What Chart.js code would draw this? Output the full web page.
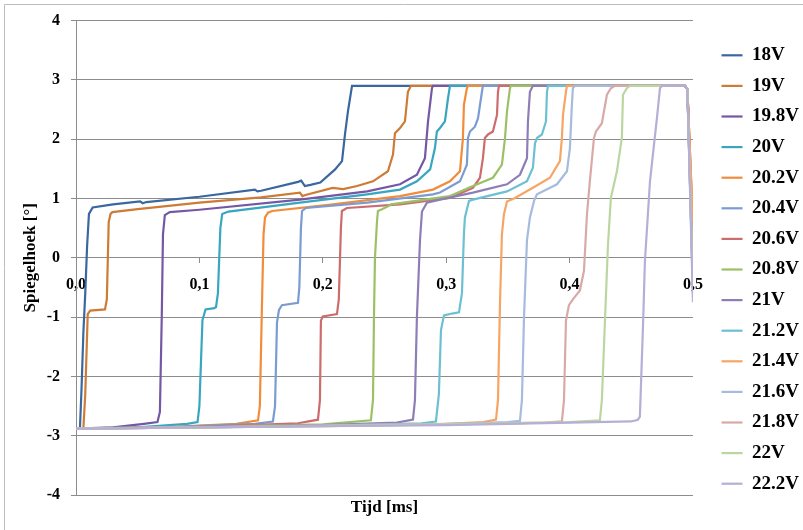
<!DOCTYPE html>
<html>
<head>
<meta charset="utf-8">
<script src="https://cdn.jsdelivr.net/npm/chart.js@4.4.0/dist/chart.umd.min.js"></script>
<style>
  html, body { margin: 0; padding: 0; background: #fff; }
  #wrap { width: 803px; height: 530px; }
</style>
</head>
<body>
<div id="wrap"><canvas id="chart"></canvas></div>
<script>
// series labels (supply voltage) and line colours
const voltages = ['18V', '19V', '19.8V', '20V', '20.2V', '20.4V', '20.6V', '20.8V',
                  '21V', '21.2V', '21.4V', '21.6V', '21.8V', '22V', '22.2V'];
const colors = ['#3A67A0', '#CD7B35', '#7458A4', '#38A6BF', '#F08C3C', '#7A9CD2', '#CC6C6C', '#9CC066',
                '#8E7EB7', '#6DC0D3', '#F7A565', '#A6BBDD', '#D9A9A8', '#BBD6A1', '#B6AED6'];

const xTicks = [0, 0.1, 0.2, 0.3, 0.4, 0.5];   // tijd [ms]
const yTicks = [-4, -3, -2, -1, 0, 1, 2, 3, 4]; // spiegelhoek [°]

// [tijd (ms), hoek (°)]
const s18 = [[0,-2.88],[0.0032,-2.87],[0.0045,-2.2],[0.006,-1.25],[0.0075,-0.6],[0.009,0.2],[0.0105,0.74],[0.0135,0.85],[0.03,0.9],[0.052,0.95],[0.054,0.92],[0.057,0.94],[0.1,1.03],[0.145,1.15],[0.147,1.12],[0.15,1.13],[0.18,1.28],[0.1825,1.3],[0.1855,1.21],[0.19,1.23],[0.198,1.27],[0.21,1.49],[0.2156,1.63],[0.218,2.08],[0.2204,2.47],[0.2237,2.9],[0.4935,2.9],[0.4955,2.85],[0.5,0.3]];
const s19 = [[0,-2.88],[0.006,-2.87],[0.0075,-2.3],[0.0095,-0.95],[0.0115,-0.89],[0.0235,-0.87],[0.025,-0.7],[0.0265,0.6],[0.028,0.74],[0.0295,0.77],[0.05,0.82],[0.1,0.93],[0.15,1.02],[0.1815,1.1],[0.1835,1.04],[0.186,1.06],[0.208,1.18],[0.2165,1.16],[0.2278,1.21],[0.2407,1.29],[0.2528,1.46],[0.2569,1.74],[0.2585,2.1],[0.2626,2.19],[0.2666,2.3],[0.269,2.8],[0.2715,2.9],[0.4935,2.9],[0.4955,2.85],[0.5,0.5]];
const s19_8 = [[0,-2.88],[0.03,-2.86],[0.055,-2.8],[0.066,-2.77],[0.068,-2.6],[0.0695,-1.0],[0.0705,0.4],[0.072,0.72],[0.076,0.77],[0.1,0.81],[0.1815,0.98],[0.236,1.12],[0.2626,1.24],[0.2763,1.4],[0.2828,1.68],[0.2853,2.3],[0.2885,2.86],[0.2893,2.9],[0.4935,2.9],[0.4955,2.85],[0.5,0.0]];
const s20 = [[0,-2.88],[0.05,-2.86],[0.09,-2.8],[0.0985,-2.77],[0.1,-2.5],[0.1025,-1.05],[0.105,-0.87],[0.112,-0.85],[0.1135,-0.83],[0.115,-0.6],[0.117,0.5],[0.1185,0.74],[0.1235,0.78],[0.1815,0.93],[0.236,1.07],[0.2626,1.15],[0.2763,1.29],[0.287,1.49],[0.2909,1.85],[0.2925,2.13],[0.295,2.19],[0.299,2.3],[0.3015,2.69],[0.3031,2.9],[0.4935,2.9],[0.4955,2.85],[0.5,-0.2]];
const s20_2 = [[0,-2.88],[0.07,-2.86],[0.13,-2.8],[0.1475,-2.74],[0.149,-2.5],[0.1505,-1.0],[0.152,0.4],[0.1532,0.68],[0.1556,0.76],[0.159,0.79],[0.2083,0.9],[0.2626,1.04],[0.2893,1.15],[0.3031,1.29],[0.3112,1.46],[0.3136,2.02],[0.3144,2.58],[0.3168,2.86],[0.3177,2.9],[0.4935,2.9],[0.4955,2.85],[0.5,0.55]];
const s20_4 = [[0,-2.88],[0.08,-2.85],[0.145,-2.8],[0.1596,-2.76],[0.1613,-2.5],[0.1629,-1.09],[0.1645,-0.88],[0.1669,-0.8],[0.1799,-0.76],[0.181,-0.5],[0.1823,0.5],[0.1832,0.79],[0.1864,0.84],[0.236,0.93],[0.2893,1.07],[0.295,1.1],[0.3112,1.29],[0.3168,1.57],[0.3177,2.02],[0.3193,2.13],[0.3233,2.21],[0.3258,2.35],[0.329,2.8],[0.3298,2.9],[0.4935,2.9],[0.4955,2.85],[0.5,-0.3]];
const s20_6 = [[0,-2.88],[0.1,-2.85],[0.18,-2.79],[0.1961,-2.73],[0.1977,-2.4],[0.1985,-1.06],[0.2,-0.99],[0.2115,-0.95],[0.213,-0.7],[0.2147,0.5],[0.2155,0.79],[0.2196,0.84],[0.2626,0.9],[0.3031,1.01],[0.3217,1.18],[0.3274,1.35],[0.3298,1.68],[0.3314,2.02],[0.3339,2.08],[0.3379,2.13],[0.3412,2.41],[0.342,2.8],[0.3428,2.9],[0.4935,2.9],[0.4955,2.85],[0.5,0.2]];
const s20_8 = [[0,-2.88],[0.1,-2.85],[0.2,-2.81],[0.239,-2.74],[0.2407,-2.4],[0.2415,-1.0],[0.2423,0.0],[0.2439,0.6],[0.2447,0.79],[0.248,0.82],[0.2528,0.87],[0.2553,0.9],[0.3031,1.04],[0.3217,1.21],[0.3379,1.35],[0.3452,1.57],[0.3477,2.02],[0.3493,2.47],[0.3517,2.86],[0.3525,2.9],[0.4935,2.9],[0.4955,2.85],[0.5,-0.1]];
const s21 = [[0,-2.88],[0.1,-2.85],[0.2,-2.82],[0.26,-2.78],[0.2731,-2.73],[0.2747,-2.4],[0.2763,-1.0],[0.2788,0.3],[0.2804,0.78],[0.2844,0.93],[0.295,0.98],[0.3217,1.1],[0.3493,1.24],[0.3598,1.4],[0.3655,1.68],[0.3663,2.3],[0.3679,2.8],[0.3703,2.9],[0.4935,2.9],[0.4955,2.85],[0.5,-0.5]];
const s21_2 = [[0,-2.88],[0.1,-2.86],[0.2,-2.83],[0.28,-2.79],[0.2917,-2.76],[0.2941,-2.3],[0.2958,-1.22],[0.2982,-0.97],[0.3047,-0.94],[0.3104,-0.92],[0.3128,-0.6],[0.3144,0.4],[0.3152,0.68],[0.3185,0.96],[0.3217,0.98],[0.3493,1.12],[0.3655,1.29],[0.3703,1.52],[0.372,1.93],[0.3736,2.02],[0.3776,2.08],[0.3809,2.3],[0.3817,2.8],[0.3825,2.9],[0.4935,2.9],[0.4955,2.85],[0.5,-0.3]];
const s21_4 = [[0,-2.88],[0.1,-2.86],[0.2,-2.83],[0.3,-2.8],[0.33,-2.77],[0.3404,-2.73],[0.342,-2.4],[0.3436,-0.8],[0.3452,0.4],[0.3468,0.73],[0.3493,0.95],[0.3558,1.01],[0.3703,1.18],[0.3841,1.35],[0.3922,1.63],[0.3938,2.02],[0.3947,2.41],[0.3971,2.8],[0.3979,2.9],[0.4935,2.9],[0.4955,2.85],[0.5,0.6]];
const s21_6 = [[0,-2.88],[0.1,-2.86],[0.2,-2.83],[0.3,-2.8],[0.35,-2.77],[0.3598,-2.75],[0.3614,-2.4],[0.3631,-1.0],[0.3655,0.3],[0.3679,0.68],[0.3712,0.96],[0.3736,1.07],[0.3898,1.24],[0.3979,1.46],[0.4003,1.85],[0.4019,2.58],[0.4027,2.86],[0.4043,2.9],[0.4935,2.9],[0.4955,2.85],[0.5,-0.6]];
const s21_8 = [[0,-2.88],[0.1,-2.86],[0.2,-2.84],[0.3,-2.81],[0.38,-2.78],[0.3938,-2.76],[0.3955,-2.4],[0.3971,-1.06],[0.3995,-0.8],[0.4027,-0.7],[0.4084,-0.55],[0.4117,-0.22],[0.4141,0.73],[0.4165,1.3],[0.4198,2.02],[0.4214,2.13],[0.4262,2.27],[0.4303,2.75],[0.4335,2.86],[0.4368,2.9],[0.4935,2.9],[0.4955,2.85],[0.5,-0.4]];
const s22 = [[0,-2.88],[0.1,-2.86],[0.2,-2.84],[0.3,-2.81],[0.4,-2.77],[0.4246,-2.74],[0.4262,-2.4],[0.4287,-1.06],[0.4311,0.2],[0.4335,1.01],[0.4384,1.46],[0.4424,2.02],[0.4433,2.75],[0.4465,2.86],[0.4489,2.9],[0.4935,2.9],[0.4955,2.85],[0.5,-0.5]];
const s22_2 = [[0,-2.88],[0.1,-2.86],[0.2,-2.84],[0.3,-2.82],[0.4,-2.78],[0.45,-2.76],[0.4554,-2.73],[0.457,-2.68],[0.4595,-1.17],[0.4611,-0.05],[0.4652,1.29],[0.4684,1.9],[0.4708,2.35],[0.4733,2.86],[0.4749,2.9],[0.4935,2.9],[0.4955,2.85],[0.5,-0.75]];

const series = [s18, s19, s19_8, s20, s20_2, s20_4, s20_6, s20_8, s21, s21_2, s21_4, s21_6, s21_8, s22, s22_2];

const serif = "'Liberation Serif', 'Times New Roman', serif";
const gridColor = '#8c8c8c';

// white background plus the thin frame (only top and left edges show)
const frame = {
  id: 'frame',
  beforeDraw(chart) {
    const c = chart.ctx;
    c.save();
    c.fillStyle = '#fff';
    c.fillRect(0, 0, chart.width, chart.height);
    c.strokeStyle = '#bdbdbd';
    c.lineWidth = 1;
    c.beginPath();
    c.moveTo(4.5, chart.height);
    c.lineTo(4.5, 4.5);
    c.lineTo(chart.width, 4.5);
    c.stroke();
    c.restore();
  }
};

const datasets = voltages.map((v, i) => ({
  label: v,
  data: series[i].map(p => ({x: p[0], y: p[1]})),
  borderColor: colors[i],
  backgroundColor: colors[i],
  borderWidth: 2.2,
  pointRadius: 0,
  tension: 0,
  fill: false,
  xAxisID: 'x',
  yAxisID: 'y',
  order: voltages.length - i   // later series on top, like the original
}));

new Chart(document.getElementById('chart'), {
  type: 'line',
  data: { datasets },
  plugins: [frame],
  options: {
    responsive: true,
    maintainAspectRatio: false,
    animation: false,
    layout: { padding: { top: 19, left: 0, right: -6, bottom: 10 } },
    plugins: {
      tooltip: { enabled: false },
      legend: {
        position: 'right',
        align: 'center',
        labels: {
          usePointStyle: true,
          pointStyle: 'line',
          pointStyleWidth: 21,
          padding: 11.6,
          color: '#000',
          font: { family: serif, size: 19, weight: 'bold' },
          sort: (a, b) => a.datasetIndex - b.datasetIndex
        }
      }
    },
    scales: {
      x: {
        type: 'linear',
        position: { y: 0 },
        min: xTicks[0],
        max: xTicks[xTicks.length - 1],
        afterBuildTicks: s => { s.ticks = xTicks.map(v => ({ value: v })); },
        ticks: {
          padding: 12,
          maxRotation: 0,
          color: '#000',
          font: { family: serif, size: 16, weight: 'bold' },
          callback: v => v.toFixed(1).replace('.', ',')
        },
        grid: { drawOnChartArea: false, drawTicks: true, tickLength: 5, color: gridColor },
        border: { color: gridColor }
      },
      xTitle: {
        type: 'linear',
        axis: 'x',
        position: 'bottom',
        min: 0,
        max: 0.5,
        ticks: { display: false },
        grid: { display: false, drawTicks: false },
        border: { display: false },
        title: {
          display: true,
          text: 'Tijd [ms]',
          color: '#000',
          font: { family: serif, size: 17, weight: 'bold' },
          padding: { top: 0, bottom: 2 }
        },
        afterFit: s => { s.height = 25; }
      },
      y: {
        type: 'linear',
        position: 'left',
        min: yTicks[0],
        max: yTicks[yTicks.length - 1],
        afterBuildTicks: s => { s.ticks = yTicks.map(v => ({ value: v })); },
        ticks: {
          padding: 11,
          color: '#000',
          font: { family: serif, size: 16, weight: 'bold' }
        },
        grid: { color: gridColor, tickLength: 5 },
        border: { color: gridColor },
        title: {
          display: true,
          text: 'Spiegelhoek [°]',
          color: '#000',
          font: { family: serif, size: 17, weight: 'bold' },
          padding: { top: 20, bottom: 0 }
        },
        afterFit: s => { s.width = 76; }
      },
      ySpacer: {
        type: 'linear',
        axis: 'y',
        position: 'right',
        ticks: { display: false },
        grid: { display: false, drawTicks: false },
        border: { display: false },
        afterFit: s => { s.width = 17; }
      }
    }
  }
});
</script>
</body>
</html>
